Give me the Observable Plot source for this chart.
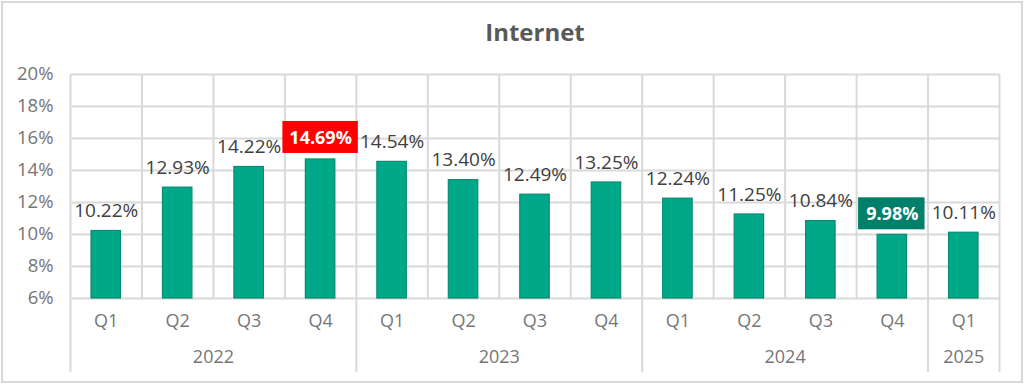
<!DOCTYPE html>
<html>
<head>
<meta charset="utf-8">
<script src="https://cdn.jsdelivr.net/npm/d3@7"></script>
<script src="https://cdn.jsdelivr.net/npm/@observablehq/plot@0.6"></script>
<style>
  html, body { margin: 0; padding: 0; background: #fff; }
  #wrap { position: relative; width: 1024px; height: 384px; }
  #frame { position: absolute; left: 1px; top: 1px; width: 1018px; height: 378px; border: 2px solid #d9d9d9; pointer-events: none; }
</style>
</head>
<body>
<div id="wrap"><div id="frame"></div></div>
<script>
const years    = ["2022","2022","2022","2022","2023","2023","2023","2023","2024","2024","2024","2024","2025"];
const quarters = ["Q1","Q2","Q3","Q4","Q1","Q2","Q3","Q4","Q1","Q2","Q3","Q4","Q1"];
const values   = [10.22, 12.93, 14.22, 14.69, 14.54, 13.40, 12.49, 13.25, 12.24, 11.25, 10.84, 9.98, 10.11];
const yTicks   = [6, 8, 10, 12, 14, 16, 18, 20];
const title    = "Internet";

const data = values.map((v, i) => ({i, year: years[i], quarter: quarters[i], value: v}));
const maxV = d3.max(values), minV = d3.min(values);
const normal = data.filter(d => d.value !== maxV && d.value !== minV);
const hiMax = data.filter(d => d.value === maxV);
const hiMin = data.filter(d => d.value === minV);

// year groups
const yearGroups = Array.from(d3.group(data, d => d.year), ([year, arr]) => ({
  year, start: d3.min(arr, d => d.i), end: d3.max(arr, d => d.i) + 1
}));
const yearBounds = Array.from(new Set(yearGroups.flatMap(g => [g.start, g.end])));
const quarterBounds = d3.range(1, data.length).filter(b => !yearBounds.includes(b));

const font = "'Open Sans', sans-serif";
const axisGray = "#767676";
const fmt = v => v.toFixed(2) + "%";

const plot = Plot.plot({
  width: 1024,
  height: 384,
  marginLeft: 70,
  marginRight: 25,
  marginTop: 74,
  marginBottom: 86,
  style: {fontFamily: font, fontSize: "18px", color: axisGray, background: "transparent", overflow: "visible"},
  x: {type: "linear", domain: [0, data.length], axis: null},
  y: {domain: [6, 20], axis: null},
  marks: [
    Plot.ruleY(yTicks, {stroke: "#d9d9d9", strokeWidth: 2}),
    Plot.ruleX(quarterBounds, {x: d => d, y1: 20, y2: 6, stroke: "#d9d9d9", strokeWidth: 2}),
    Plot.ruleX(yearBounds, {x: d => d, y1: 20, y2: 6, insetBottom: -74, stroke: "#d9d9d9", strokeWidth: 2}),
    Plot.text(yTicks, {y: d => d, text: d => d + "%", frameAnchor: "left", textAnchor: "end", dx: -17,
      fontSize: 18.5, fill: axisGray, fontFamily: font}),
    Plot.rect(data, {x1: d => d.i, x2: d => d.i + 1, y1: 6, y2: "value", insetLeft: 21, insetRight: 21,
      fill: "#00a88a", stroke: "#0b8b70", strokeWidth: 1.2}),
    Plot.text(normal, {x: d => d.i + 0.5, y: "value", text: d => fmt(d.value), dy: -20,
      fontSize: 19, fill: "#404040", fontFamily: font}),
    Plot.rect(hiMax, {x1: d => d.i, x2: d => d.i + 1, y1: "value", y2: "value",
      insetLeft: -2, insetRight: -2, insetTop: -38, insetBottom: 6, fill: "#ff0000"}),
    Plot.rect(hiMin, {x1: d => d.i, x2: d => d.i + 1, y1: "value", y2: "value",
      insetLeft: 2, insetRight: 3, insetTop: -37, insetBottom: 5, fill: "#00806a"}),
    Plot.text([...hiMax, ...hiMin], {x: d => d.i + 0.5, y: "value", text: d => fmt(d.value), dy: -21,
      fontSize: 18, fontWeight: "bold", fill: "#ffffff", fontFamily: font}),
    Plot.text(data, {x: d => d.i + 0.5, text: "quarter", frameAnchor: "bottom", dy: 28,
      fontSize: 18, fill: axisGray, fontFamily: font}),
    Plot.text(yearGroups, {x: d => (d.start + d.end) / 2, text: "year", frameAnchor: "bottom", dy: 64,
      fontSize: 18, fill: axisGray, fontFamily: font}),
    Plot.text([title], {frameAnchor: "top", dy: -51, fontSize: 24, fontWeight: "bold", fill: "#595959", fontFamily: font})
  ]
});
plot.style.position = "absolute";
plot.style.left = "0";
plot.style.top = "0";
document.getElementById("wrap").prepend(plot);
</script>
</body>
</html>
